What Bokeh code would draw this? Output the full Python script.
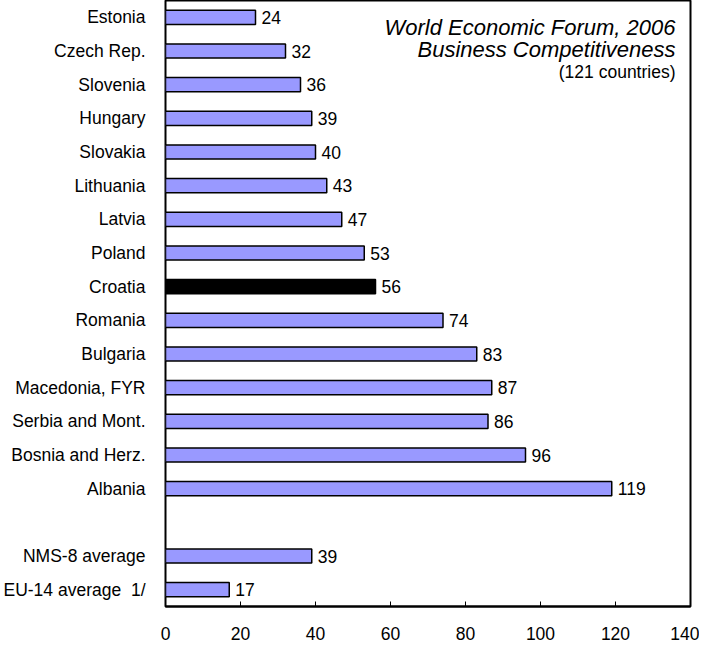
from bokeh.plotting import figure
from bokeh.models import FactorRange, ColumnDataSource, FixedTicker, Label
from bokeh.core.properties import value
from bokeh.embed import file_html
from bokeh.resources import INLINE

countries = ["Estonia", "Czech Rep.", "Slovenia", "Hungary", "Slovakia", "Lithuania",
             "Latvia", "Poland", "Croatia", "Romania", "Bulgaria", "Macedonia, FYR",
             "Serbia and Mont.", "Bosnia and Herz.", "Albania", " ",
             "NMS-8 average", "EU-14 average \u00a01/"]
ranks = [24, 32, 36, 39, 40, 43, 47, 53, 56, 74, 83, 87, 86, 96, 119, None, 39, 17]
highlight = "Croatia"
x_ticks = [0, 20, 40, 60, 80, 100, 120, 140]
title_lines = ["World Economic Forum, 2006", "Business Competitiveness", "(121 countries)"]

FONT = "Liberation Sans"
FS = "17.5px"

cats = [c for c, r in zip(countries, ranks) if r is not None]
vals = [r for r in ranks if r is not None]
colors = ["black" if c == highlight else "#9999FF" for c in cats]
src = ColumnDataSource(dict(cat=cats, val=vals, color=colors, lab=[str(v) for v in vals]))

W, H = 699, 646
BL, BR, BT, BB = 160, 9, 0, 40
p = figure(width=W, height=H, y_range=FactorRange(factors=list(reversed(countries)), range_padding=0),
           x_range=(0, 140), output_backend="svg", toolbar_location=None,
           min_border_left=BL, min_border_right=BR, min_border_top=BT, min_border_bottom=BB)

p.hbar(y="cat", right="val", left=0, height=0.42, fill_color="color", line_color="black",
       line_width=1.5, source=src)
p.text(x="val", y="cat", text="lab", source=src, x_offset=6, text_align="left",
       text_baseline="middle", text_font=value(FONT), text_font_size=FS, text_color="black")

p.outline_line_color = "black"
p.outline_line_width = 2
p.outline_line_alpha = 1
p.grid.visible = False
p.background_fill_color = "white"
p.border_fill_color = "white"

xa = p.xaxis[0]
xa.ticker = FixedTicker(ticks=x_ticks)
xa.major_tick_in = 5
xa.major_tick_out = 0
xa.minor_tick_line_color = None
xa.axis_line_color = "black"
xa.axis_line_width = 2
xa.major_tick_line_color = "black"
xa.major_label_standoff = 20
xa.major_label_text_font = FONT
xa.major_label_text_font_size = FS
xa.major_label_text_color = "black"

ya = p.yaxis[0]
ya.axis_line_color = None
ya.major_tick_line_color = None
ya.minor_tick_line_color = None
ya.major_label_standoff = 14
ya.major_label_text_font = FONT
ya.major_label_text_font_size = FS
ya.major_label_text_color = "black"

frame_h = H - BT - BB
title_y = [27, 49, 71]          # distance of each line's centre below the frame top
title_size = ["22px", "22px", "17.5px"]
title_style = ["italic", "italic", "normal"]
for t, yy, sz, st in zip(title_lines, title_y, title_size, title_style):
    p.add_layout(Label(x=510, y=frame_h - yy, x_units="screen", y_units="screen", text=t,
                       text_align="right", text_baseline="middle", text_font=FONT,
                       text_font_size=sz, text_font_style=st, text_color="black"))

open("out.html", "w").write(file_html(p, INLINE))
